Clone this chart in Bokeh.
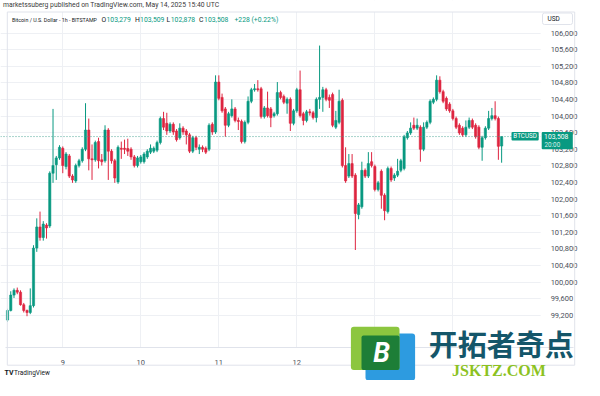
from bokeh.plotting import figure
from bokeh.models import (ColumnDataSource, Range1d, FixedTicker, Label, BoxAnnotation,
                          NumeralTickFormatter)
from bokeh.embed import file_html
from bokeh.resources import INLINE

# ---------------- data (BTC/USD, 1h, BITSTAMP, from May 8 07:00 UTC) ----------------
opens = [99087, 99318, 99688, 99804, 99760, 99457, 99318, 99270, 99434, 100821,
         101330, 101076, 101376, 101353, 102625, 102830, 102994, 103226, 102786, 103041,
         102555, 102440, 102809, 102925, 103203, 103665, 102971, 102948, 103387, 102948,
         102925, 103665, 103156, 102925, 102416, 103226, 103226, 103220, 103203, 103018,
         102809, 102902, 102902, 103018, 103133, 103156, 103180, 103364, 103942, 103827,
         103642, 103804, 103642, 103480, 103711, 103642, 103549, 103156, 103480, 103203,
         103249, 103226, 103203, 103804, 103619, 104821, 104451, 104174, 103780, 104012,
         104174, 103896, 103873, 103387, 103850, 104358, 104636, 104659, 104659, 103989,
         104197, 104174, 104012, 104058, 104567, 104474, 104312, 104405, 103827, 104127,
         104636, 104058, 103896, 104104, 104081, 103966, 104405, 104451, 104636, 104451,
         104520, 103734, 103850, 104382, 102809, 102555, 102856, 102578, 101630, 101815,
         102694, 102555, 102902, 102786, 102232, 102671, 102093, 101700, 102740, 102509,
         102578, 102694, 102740, 103480, 103595, 103780, 103711, 103734, 103203, 103734,
         103850, 104335, 104405, 104867, 104590, 104428, 104289, 104127, 103942, 103780,
         103711, 103549, 103734, 103896, 103780, 103734, 103249, 103480, 103711, 103942,
         104012, 103942, 103279]
highs = [99360, 99781, 99850, 99870, 99804, 99500, 99340, 99850, 100890, 101538,
         101700, 101470, 101420, 102670, 104174, 103041, 103300, 103270, 103133, 103087,
         102600, 102856, 102971, 103249, 104312, 103942, 103318, 103410, 103480, 103087,
         103780, 103711, 103203, 102971, 103295, 103387, 103434, 103457, 103249, 103064,
         103041, 103064, 103133, 103203, 103318, 103270, 103410, 103989, 104104, 104081,
         103850, 103850, 103688, 103827, 103757, 103688, 103595, 103526, 103526, 103318,
         103295, 103270, 103827, 103850, 104983, 104983, 104543, 104220, 104104, 104405,
         104220, 103966, 103919, 103896, 104474, 104682, 104775, 104867, 104705, 104243,
         104590, 104220, 104104, 104821, 104613, 104520, 104451, 104451, 104174, 104682,
         105098, 104104, 104150, 104174, 104127, 104451, 105700, 104705, 104682, 104520,
         104567, 104127, 104636, 104428, 103249, 103087, 103087, 102625, 101908, 102902,
         102740, 103133, 103133, 102832, 102440, 102717, 102140, 102786, 102786, 102625,
         102971, 102971, 103549, 103642, 103850, 103966, 103942, 103780, 103850, 103896,
         104405, 104451, 104983, 104960, 104636, 104474, 104335, 104174, 103989, 103827,
         103757, 103896, 103966, 103942, 103827, 103780, 103526, 103757, 104127, 104197,
         104358, 103989, 103509]
lows = [99041, 99295, 99620, 99710, 99434, 99270, 99180, 99230, 99390, 100730,
        101000, 101000, 101050, 101307, 102393, 102463, 102948, 102625, 102717, 102509,
        102393, 102393, 102763, 102880, 103156, 102694, 102463, 102902, 102740, 102809,
        102880, 102463, 102856, 102393, 102370, 102971, 103087, 103041, 102948, 102763,
        102763, 102856, 102856, 102971, 103087, 103110, 103133, 103318, 103665, 103549,
        103595, 103549, 103387, 103434, 103549, 103318, 103110, 103110, 103180, 103087,
        103133, 103087, 103156, 103549, 103572, 104382, 104081, 103503, 103734, 103966,
        103850, 103665, 103341, 103341, 103804, 104312, 104590, 104590, 103942, 103942,
        103966, 103734, 103966, 104012, 104405, 104289, 104058, 103642, 103780, 104081,
        103966, 103780, 103850, 104012, 103919, 103850, 104174, 104104, 104358, 104197,
        103734, 103688, 103804, 102763, 102393, 102509, 102509, 100775, 101515, 101769,
        102509, 102509, 102763, 102186, 102186, 101769, 101492, 101653, 102416, 102440,
        102532, 102648, 102694, 103434, 103549, 103665, 103665, 102902, 103156, 103688,
        103804, 104289, 104358, 104543, 104312, 104127, 104081, 103896, 103688, 103549,
        103503, 103503, 103688, 103688, 103457, 103203, 102925, 103434, 103665, 103896,
        103896, 102948, 102878]
closes = [99318, 99688, 99804, 99760, 99457, 99318, 99270, 99434, 100821, 101330,
          101076, 101399, 101307, 102625, 102809, 102994, 103249, 102809, 103087, 102555,
          102463, 102809, 102925, 103203, 103665, 102971, 102948, 103364, 102925, 102902,
          103665, 103156, 102925, 102509, 103249, 103203, 103200, 103156, 103018, 102809,
          102994, 103018, 103087, 103156, 103226, 103226, 103364, 103942, 103734, 103642,
          103804, 103619, 103434, 103711, 103619, 103549, 103156, 103480, 103249, 103249,
          103203, 103133, 103780, 103619, 104821, 104428, 104127, 103780, 104058, 104174,
          103896, 103873, 103387, 103850, 104358, 104636, 104659, 104636, 103989, 104197,
          104012, 103966, 104058, 104567, 104451, 104335, 104405, 103827, 104127, 104636,
          104012, 103896, 104104, 104081, 103966, 104405, 104451, 104636, 104405, 104382,
          103780, 103896, 104358, 102809, 102440, 102856, 102555, 101653, 101862, 102694,
          102555, 102856, 102809, 102232, 102393, 102093, 101723, 102740, 102463, 102578,
          102671, 102925, 103503, 103595, 103711, 103711, 103780, 103203, 103734, 103850,
          104358, 104405, 104867, 104590, 104358, 104174, 104127, 103942, 103734, 103595,
          103549, 103734, 103896, 103734, 103503, 103249, 103480, 103711, 103942, 104012,
          103942, 103272, 103508]

day_ticks = [17, 41, 65, 89, 113, 137]          # 00:00 UTC of May 9 .. May 14
day_labels = ["9", "10", "11", "12", "", ""]
price_ticks = [99200, 99600, 100000, 100400, 100800, 101200, 101600, 102000, 102400,
               102800, 103200, 103600, 104000, 104400, 104800, 105200, 105600, 106000]
last_price = 103508

# ---------------- layout constants ----------------
W, H = 584, 380
X0, X1 = -2.156, 177.49          # full canvas in bar units
Y0, Y1 = 97631, 106786           # full canvas in USD
PANE_RIGHT = 164.0               # price scale starts here
PANE_BOTTOM = 98417              # time scale starts here
PANE_TOP = 106508

UP = "#089981"
DOWN = "#de2540"
FONT = "Roboto"
GRID = "#eef0f4"
BORDER = "#e0e3eb"

n = len(opens)
xs = list(range(n))
tops = [max(o, c) for o, c in zip(opens, closes)]
bots = [min(o, c) for o, c in zip(opens, closes)]
cols = [UP if c >= o else DOWN for o, c in zip(opens, closes)]
src = ColumnDataSource(dict(x=xs, o=opens, h=highs, l=lows, c=closes,
                            top=tops, bot=bots, col=cols))

p = figure(width=W, height=H, output_backend="svg", toolbar_location=None,
           x_range=Range1d(X0, X1), y_range=Range1d(Y0, Y1),
           y_axis_location="right", min_border=0)
p.background_fill_color = "white"
p.border_fill_color = "white"
p.outline_line_color = None

# grid
p.xgrid.ticker = FixedTicker(ticks=day_ticks)
p.ygrid.ticker = FixedTicker(ticks=price_ticks)
p.xgrid.grid_line_color = GRID
p.ygrid.grid_line_color = GRID

# white masks so that the grid only shows inside the pane
for kw in (dict(left=PANE_RIGHT), dict(top=PANE_BOTTOM), dict(bottom=PANE_TOP)):
    p.add_layout(BoxAnnotation(fill_color="white", fill_alpha=1, line_alpha=0,
                               level="underlay", **kw))

# candles
p.segment(x0="x", y0="l", x1="x", y1="h", line_color="col", line_width=1, source=src)
p.vbar(x="x", width=0.68, top="top", bottom="bot", fill_color="col",
       line_color="col", line_width=0.6, source=src)

# last price dotted line
p.segment(x0=[X0], y0=[last_price], x1=[PANE_RIGHT], y1=[last_price],
          line_color="#3f9e8e", line_dash="1 2", line_width=1, line_alpha=0.9)

# axes (drawn inside the canvas at the pane edges)
ya = p.yaxis[0]
ya.fixed_location = PANE_RIGHT
ya.ticker = FixedTicker(ticks=price_ticks)
ya.formatter = NumeralTickFormatter(format="0,0")
ya.major_tick_line_color = None
ya.minor_tick_line_color = None
ya.axis_line_color = None
ya.major_label_standoff = 4
ya.major_label_text_font = FONT
ya.major_label_text_font_size = "7.5px"
ya.major_label_text_color = "#4a4f5a"

xa = p.xaxis[0]
xa.fixed_location = PANE_BOTTOM
xa.bounds = (X0 + 1.5, PANE_RIGHT + 10)
xa.ticker = FixedTicker(ticks=day_ticks)
xa.major_label_overrides = {t: lab for t, lab in zip(day_ticks, day_labels)}
xa.major_tick_line_color = None
xa.minor_tick_line_color = None
xa.axis_line_color = BORDER
xa.major_label_standoff = 6
xa.major_label_text_font = FONT
xa.major_label_text_font_size = "7.5px"
xa.major_label_text_color = "#4a4f5a"


def lab(text, x, y, size="7px", color="#131722", align="left", style="normal", font=FONT):
    p.add_layout(Label(x=x, y=y, x_units="canvas", y_units="canvas", text=text,
                       text_font=font, text_font_size=size, text_color=color,
                       text_align=align, text_baseline="middle", text_font_style=style))


def box(l, t, r, b, fill, line=None, radius=0, alpha=1.0):
    p.add_layout(BoxAnnotation(left=l, right=r, top=t, bottom=b,
                               left_units="canvas", right_units="canvas",
                               top_units="canvas", bottom_units="canvas",
                               fill_color=fill, fill_alpha=alpha,
                               line_color=line if line else "white",
                               line_alpha=1.0 if line else 0.0,
                               border_radius=radius))


# widget border
box(6.8, 11.5, 574.2, 364.7, None, line=BORDER, alpha=0)

# header
lab("marketssuberg published on TradingView.com, May 14, 2025 15:40 UTC", 2.5, 4.8,
    size="6.8px", color="#3a3a3a")
lab("Bitcoin / U.S. Dollar - 1h - BITSTAMP", 11.5, 19.2, size="5.3px", color="#131722")
parts = [("O", 101.0, "#131722"), ("103,279", 106.0, UP),
         ("H", 134.5, "#131722"), ("103,509", 139.6, UP),
         ("L", 166.0, "#131722"), ("102,878", 170.3, UP),
         ("C", 198.5, "#131722"), ("103,508", 203.6, UP),
         ("+228 (+0.22%)", 234.0, UP)]
for t, x, c in parts:
    lab(t, x, 19.2, size="6.8px", color=c)

# USD box on the price scale
box(542, 12.5, 572, 24, "white", line=BORDER, radius=2)
lab("USD", 547, 18.3, size="6.5px", color="#131722")

# last price tags
box(511, 131.5, 538.2, 140.1, UP, radius=1)
lab("BTCUSD", 524.6, 135.9, size="6.3px", color="white", align="center")
box(541.2, 131.5, 572.3, 148.7, UP, radius=1)
lab("103,508", 543.6, 135.9, size="6.8px", color="white")
lab("20:00", 544.0, 144.2, size="6.3px", color="#d8f0ea")

# footer logo
lab("TV", 4, 372.3, size="7px", color="#131722", style="bold")
lab("TradingView", 13.6, 372.3, size="6.5px", color="#131722")

# watermark
box(365, 333, 414.6, 380, "#2d9be0", radius=3)
box(350.4, 326.3, 399, 369.4, "#8cc63f", radius=3)
box(361, 335, 399, 369.4, "#1d7e37", radius=2)
lab("B", 381, 352, size="27px", color="white", align="center", style="bold italic")
lab("开拓者奇点", 428.3, 342.6, size="29px", color="#14566a", style="bold",
    font="Noto Sans CJK SC")
lab("JSKTZ.COM", 451.6, 370, size="16px", color="#8cc21f", style="bold",
    font="Liberation Serif")

open("out.html", "w").write(file_html(p, INLINE))
